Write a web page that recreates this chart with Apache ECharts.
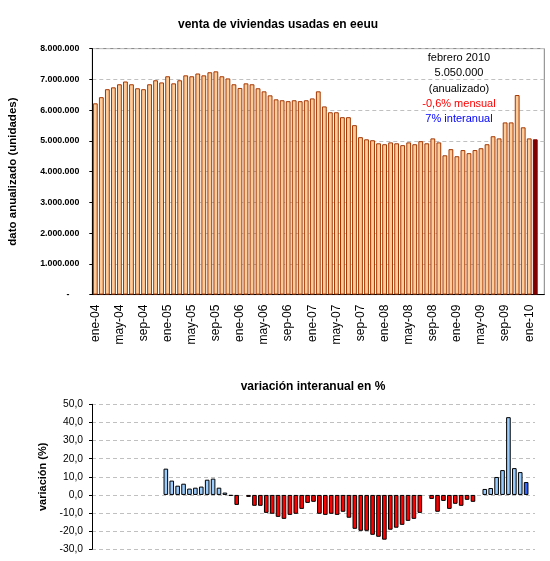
<!DOCTYPE html>
<html><head><meta charset="utf-8">
<script src="https://cdn.jsdelivr.net/npm/echarts@6/dist/echarts.min.js"></script>
<style>html,body{margin:0;padding:0;background:#fff}#c{width:550px;height:561px}</style>
</head><body><div id="c"></div>
<script>
const categories = [
 'ene-04','feb-04','mar-04','abr-04','may-04','jun-04','jul-04','ago-04','sep-04','oct-04','nov-04','dic-04',
 'ene-05','feb-05','mar-05','abr-05','may-05','jun-05','jul-05','ago-05','sep-05','oct-05','nov-05','dic-05',
 'ene-06','feb-06','mar-06','abr-06','may-06','jun-06','jul-06','ago-06','sep-06','oct-06','nov-06','dic-06',
 'ene-07','feb-07','mar-07','abr-07','may-07','jun-07','jul-07','ago-07','sep-07','oct-07','nov-07','dic-07',
 'ene-08','feb-08','mar-08','abr-08','may-08','jun-08','jul-08','ago-08','sep-08','oct-08','nov-08','dic-08',
 'ene-09','feb-09','mar-09','abr-09','may-09','jun-09','jul-09','ago-09','sep-09','oct-09','nov-09','dic-09',
 'ene-10','feb-10','mar-10'
];
const ventas = [
 6220000,6420000,6680000,6740000,6840000,6930000,6840000,6710000,6680000,6840000,6970000,6900000,
 7100000,6870000,6970000,7130000,7100000,7190000,7130000,7230000,7260000,7100000,7030000,6840000,
 6720000,6870000,6840000,6710000,6610000,6480000,6350000,6320000,6290000,6320000,6290000,6320000,
 6380000,6610000,6120000,5930000,5930000,5770000,5770000,5510000,5120000,5050000,5020000,4920000,
 4890000,4950000,4920000,4860000,4950000,4890000,4990000,4920000,5080000,4950000,4530000,4730000,
 4500000,4700000,4600000,4700000,4760000,4890000,5150000,5080000,5600000,5600000,6490000,5440000,
 5080000,5050000
];
const variacion = [
 null,null,null,null,null,null,null,null,null,null,null,null,
 14.5,7.9,5.1,6.2,3.5,4.0,4.6,8.4,9.0,4.0,1.3,-0.5,
 -5.5,0,-1.1,-6.0,-6.0,-9.9,-10.4,-12.1,-13.2,-11.0,-10.4,-7.7,
 -4.4,-3.8,-10.4,-11.0,-10.4,-11.0,-9.3,-12.6,-18.7,-19.8,-19.8,-22.0,
 -23.1,-24.7,-19.2,-18.1,-16.5,-14.3,-13.2,-9.9,0,-2.2,-9.3,-3.3,
 -7.7,-4.9,-6.0,-2.7,-3.8,0,3.3,3.8,9.9,13.7,42.9,14.8,
 12.6,7.1
];
const ventasTicks = [0,1000000,2000000,3000000,4000000,5000000,6000000,7000000,8000000];
const variacionTicks = [-30,-20,-10,0,10,20,30,40,50];
const notaLineas = ['febrero 2010','5.050.000','(anualizado)','-0,6% mensual','7% interanual'];
const tituloVentas = 'venta de viviendas usadas en eeuu';
const tituloVariacion = 'variación interanual en %';

const FONT = '"Liberation Sans", Arial, sans-serif';
const lastV = ventas.length - 1;
const ventasData = ventas.map((v,i)=>({value:v,itemStyle: i===lastV ? {color:'#800000',borderColor:'#800000'} : {}}));
const variacionData = variacion.map((v,i)=>{
  if (v===null) return null;
  let st = {color: v>=0 ? '#99CCFF' : '#FF0000'};
  if (i===lastV) st.color = '#3366FF';
  if (v===0) st.borderWidth = 0;
  return {value:v,itemStyle:st};
});
function miles(v){ if(v===0) return '-    '; return String(v).replace(/\B(?=(\d{3})+(?!\d))/g,'.'); }

const notaColors = ['#000','#000','#000','#FF0000','#0000FF'];
const graphics = [
  {type:'text',x:278,y:25,style:{text:tituloVentas,font:'bold 12px '+FONT,fill:'#000',textAlign:'center',textVerticalAlign:'middle',verticalAlign:'middle'}},
  {type:'text',x:313,y:387,style:{text:tituloVariacion,font:'bold 12px '+FONT,fill:'#000',textAlign:'center',textVerticalAlign:'middle',verticalAlign:'middle'}}
];
notaLineas.forEach((t,i)=>{
  graphics.push({type:'text',x:459,y:58+15.3*i,z:10,style:{text:t,font:'11px '+FONT,fill:notaColors[i],textAlign:'center',textVerticalAlign:'middle',verticalAlign:'middle'}});
});

const chart = echarts.init(document.getElementById('c'));
chart.setOption({
  animation:false,
  backgroundColor:'#fff',
  textStyle:{fontFamily:FONT},
  graphic:graphics,
  grid:[
    {left:92.3,top:48.6,width:452,height:246,show:true,borderColor:'#808080',borderWidth:1,containLabel:false,outerBoundsMode:'none'},
    {left:92,top:404.3,width:443,height:145,show:false,containLabel:false,outerBoundsMode:'none'}
  ],
  xAxis:[
    {type:'category',gridIndex:0,data:categories,boundaryGap:true,
     axisLine:{lineStyle:{color:'#000',width:1}},
     axisTick:{interval:3,length:5,lineStyle:{color:'#000'}},
     axisLabel:{interval:3,rotate:90,margin:10,fontSize:12,color:'#000',fontFamily:FONT},
     splitLine:{show:false}},
    {type:'category',gridIndex:1,data:categories,boundaryGap:true,
     axisLine:{show:false},axisTick:{show:false},axisLabel:{show:false},splitLine:{show:false}}
  ],
  yAxis:[
    {type:'value',gridIndex:0,min:ventasTicks[0],max:ventasTicks[ventasTicks.length-1],interval:1000000,
     name:'dato anualizado (unidades)',nameLocation:'middle',nameGap:73,nameRotate:90,
     nameTextStyle:{fontWeight:'bold',fontSize:11.5,color:'#000',fontFamily:FONT},
     axisLine:{show:true,lineStyle:{color:'#000',width:1}},
     axisTick:{show:true,length:3,lineStyle:{color:'#000'}},
     axisLabel:{formatter:miles,fontSize:8.8,fontWeight:'bold',color:'#000',margin:13,fontFamily:FONT},
     splitLine:{show:true,lineStyle:{color:'#C0C0C0',type:[4,3],width:1}}},
    {type:'value',gridIndex:1,min:variacionTicks[0],max:variacionTicks[variacionTicks.length-1],interval:10,
     name:'variación (%)',nameLocation:'middle',nameGap:43,nameRotate:90,
     nameTextStyle:{fontWeight:'bold',fontSize:11,color:'#000',fontFamily:FONT},
     axisLine:{show:true,onZero:false,lineStyle:{color:'#000',width:1}},
     axisTick:{show:true,length:3,lineStyle:{color:'#000'}},
     axisLabel:{formatter:v=>v.toFixed(1).replace('.',','),fontSize:10.3,color:'#000',margin:9,fontFamily:FONT},
     splitLine:{show:true,lineStyle:{color:'#C0C0C0',type:[4,3],width:1}}}
  ],
  series:[
    {type:'bar',xAxisIndex:0,yAxisIndex:0,data:ventasData,barWidth:4.8,
     itemStyle:{color:'#FFCC99',borderColor:'#A33600',borderWidth:1}},
    {type:'bar',xAxisIndex:1,yAxisIndex:1,data:variacionData,barWidth:4.6,
     itemStyle:{color:'#99CCFF',borderColor:'#000',borderWidth:1}}
  ]
});
</script></body></html>
